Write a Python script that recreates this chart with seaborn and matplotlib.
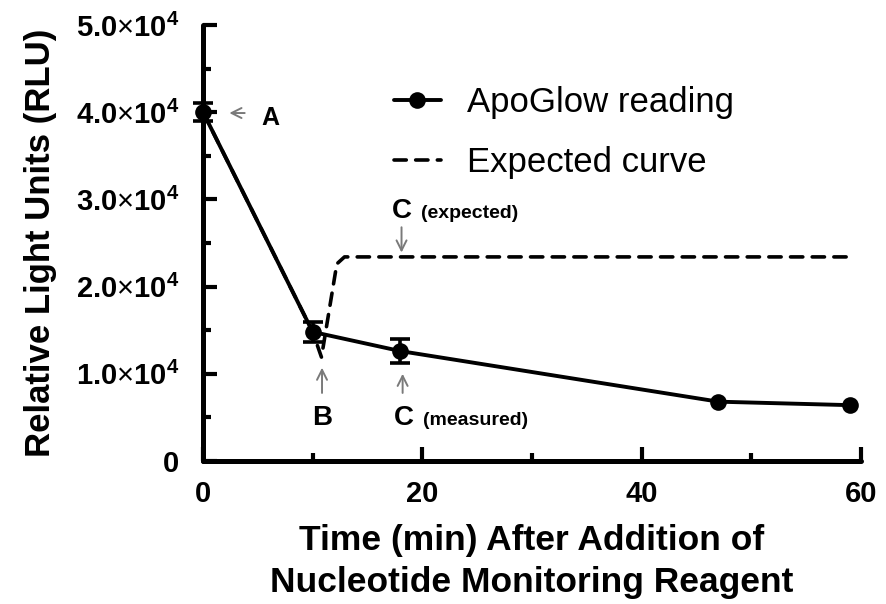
import matplotlib
matplotlib.use("Agg")
import matplotlib.pyplot as plt
import numpy as np
import pandas as pd
import seaborn as sns
from matplotlib.ticker import FixedLocator, FixedFormatter, MultipleLocator

# ApoGlow readings (mean ± error) over time
time_min = [0, 10, 18, 47, 59]
rlu = [40000, 14800, 12600, 6800, 6400]
rlu_err = [1000, 1150, 1400, 0, 0]

# Expected behaviour after reagent addition
expected_time = [0, 10, 10.8, 12.2, 12.9, 59]
expected_rlu = [40000, 14800, 11900, 22600, 23400, 23400]

x_ticks = [0, 20, 40, 60]
y_ticks = [0, 10000, 20000, 30000, 40000, 50000]
y_tick_labels = [
    r"$\mathbf{0}$",
    r"$\mathbf{1.0}{\times}\mathbf{10^{4}}$",
    r"$\mathbf{2.0}{\times}\mathbf{10^{4}}$",
    r"$\mathbf{3.0}{\times}\mathbf{10^{4}}$",
    r"$\mathbf{4.0}{\times}\mathbf{10^{4}}$",
    r"$\mathbf{5.0}{\times}\mathbf{10^{4}}$",
]

sns.set_theme(style="ticks")
plt.rcParams["font.family"] = ["Liberation Sans", "DejaVu Sans"]
plt.rcParams["mathtext.fontset"] = "custom"
plt.rcParams["mathtext.rm"] = "Liberation Sans"
plt.rcParams["mathtext.bf"] = "Liberation Sans:bold"
plt.rcParams["text.color"] = "black"
plt.rcParams["axes.labelcolor"] = "black"

measured = pd.DataFrame({"time": time_min, "rlu": rlu, "err": rlu_err})
expected = pd.DataFrame({"time": expected_time, "rlu": expected_rlu})

fig = plt.figure(figsize=(8.87, 6.04), dpi=100)
ax = fig.add_axes([0.2289, 0.2368, 0.7418, 0.7219])

sns.lineplot(data=expected, x="time", y="rlu", ax=ax, color="black",
             linewidth=2.6, linestyle=(0, (3.4, 2.6)), label="Expected curve",
             sort=False, zorder=2)
sns.lineplot(data=measured, x="time", y="rlu", ax=ax, color="black",
             linewidth=2.8, marker="o", markersize=12, markeredgewidth=0,
             label="ApoGlow reading", sort=False, zorder=3)
for ln in ax.lines:
    ln.set_clip_on(False)
    ln.set_dash_capstyle("round")
    ln.set_solid_capstyle("round")

with_err = measured[measured["err"] > 0]
eb = ax.errorbar(with_err["time"], with_err["rlu"], yerr=with_err["err"],
                 fmt="none", ecolor="black", elinewidth=2.6, capsize=7,
                 capthick=2.6, zorder=4)
for art in eb.lines[1]:
    art.set_clip_on(False)
for art in eb.lines[2]:
    art.set_clip_on(False)

ax.set_xlim(0, 60)
ax.set_ylim(0, 50000)
ax.xaxis.set_major_locator(FixedLocator(x_ticks))
ax.xaxis.set_minor_locator(MultipleLocator(10))
ax.yaxis.set_major_locator(FixedLocator(y_ticks))
ax.yaxis.set_major_formatter(FixedFormatter(y_tick_labels))
ax.yaxis.set_minor_locator(MultipleLocator(5000))

sns.despine(ax=ax)
for side in ("left", "bottom"):
    ax.spines[side].set_linewidth(3.6)
    ax.spines[side].set_capstyle("round")
    ax.spines[side].set_color("black")

ax.tick_params(which="major", direction="in", length=10, width=3,
               color="black", labelsize=21, labelcolor="black")
ax.tick_params(which="minor", direction="in", length=5.5, width=3,
               color="black")
ax.tick_params(axis="y", which="major", pad=17)
ax.tick_params(axis="x", which="major", pad=14)
for lbl in ax.get_xticklabels():
    lbl.set_fontweight("bold")

ax.set_xlabel("Time (min) After Addition of\nNucleotide Monitoring Reagent",
              fontsize=25.5, fontweight="bold", labelpad=11, linespacing=1.35,
              color="black")
ax.set_ylabel("Relative Light Units (RLU)", fontsize=25, fontweight="bold",
              labelpad=14, color="black")

handles, labels = ax.get_legend_handles_labels()
order = [labels.index("ApoGlow reading"), labels.index("Expected curve")]
leg = ax.legend([handles[i] for i in order], [labels[i] for i in order],
                loc="upper left", bbox_to_anchor=(0.29, 0.86), frameon=False,
                fontsize=25, handlelength=1.35, handletextpad=0.75,
                labelspacing=0.78, borderpad=0, borderaxespad=0)
for t in leg.get_texts():
    t.set_color("black")

arrow_kw = dict(arrowstyle="->", color="#7a7a7a", lw=1.4,
                shrinkA=0, shrinkB=0, mutation_scale=18)

# A: starting reading
ax.annotate("", xy=(2.4, 39900), xytext=(3.8, 39900), arrowprops=arrow_kw)
ax.text(6.1, 38500, "A", fontsize=18, fontweight="bold", ha="center",
        va="baseline", color="black")

# B: reading right after addition
ax.annotate("", xy=(10.85, 10700), xytext=(10.85, 7800), arrowprops=arrow_kw)
ax.text(10.9, 4100, "B", fontsize=20, fontweight="bold", ha="center",
        va="baseline", color="black")

# C (measured)
ax.annotate("", xy=(18.2, 10000), xytext=(18.2, 7800), arrowprops=arrow_kw)
ax.text(18.3, 4100, "C", fontsize=20, fontweight="bold", ha="center",
        va="baseline", color="black")
ax.text(20.1, 4100, "(measured)", fontsize=14, fontweight="bold", ha="left",
        va="baseline", color="black")

# C (expected)
ax.annotate("", xy=(18.1, 23900), xytext=(18.1, 26800), arrowprops=arrow_kw)
ax.text(18.1, 27900, "C", fontsize=20, fontweight="bold", ha="center",
        va="baseline", color="black")
ax.text(19.9, 27900, "(expected)", fontsize=14, fontweight="bold", ha="left",
        va="baseline", color="black")

fig.savefig("out.png", dpi=100, facecolor="white")
